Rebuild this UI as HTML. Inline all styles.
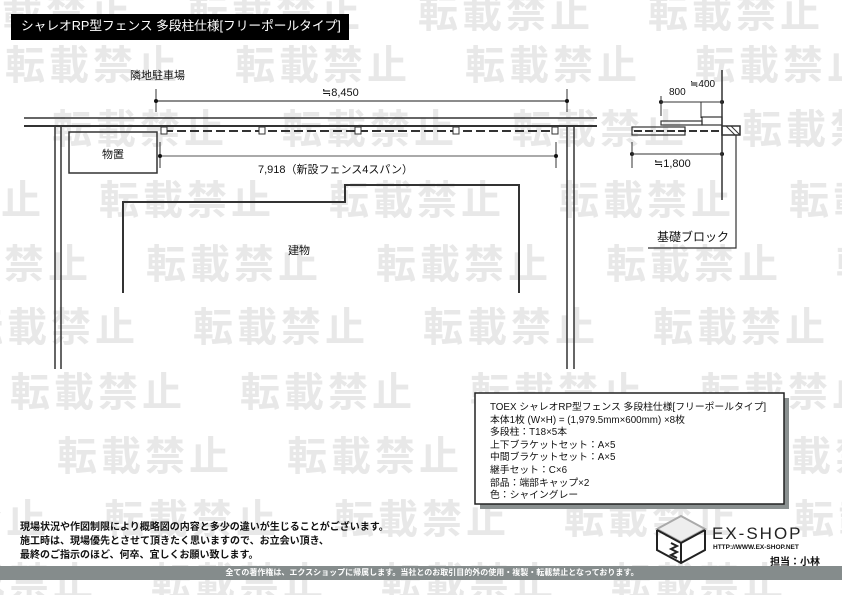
<!DOCTYPE html>
<html><head><meta charset="utf-8">
<style>
body{margin:0;width:842px;height:595px;overflow:hidden;background:#fff;position:relative;font-family:"Liberation Sans","Noto Sans CJK JP",sans-serif;}
#wmw{position:absolute;left:0;top:0;width:842px;height:595px;overflow:hidden;}
.wm{position:absolute;white-space:nowrap;font-size:40px;font-weight:bold;color:#e8e8e8;line-height:40px;letter-spacing:4px;}
.wm span{display:inline-block;width:230px;}
.t{position:absolute;white-space:nowrap;color:#111;}
svg{position:absolute;left:0;top:0;}
</style></head><body>
<div id="wmw">
<div class="wm" style="left:-42px;top:-6px"><span>転載禁止</span><span>転載禁止</span><span>転載禁止</span><span>転載禁止</span><span>転載禁止</span></div>
<div class="wm" style="left:5px;top:46px"><span>転載禁止</span><span>転載禁止</span><span>転載禁止</span><span>転載禁止</span></div>
<div class="wm" style="left:-178px;top:110px"><span>転載禁止</span><span>転載禁止</span><span>転載禁止</span><span>転載禁止</span><span>転載禁止</span></div>
<div class="wm" style="left:-131px;top:181px"><span>転載禁止</span><span>転載禁止</span><span>転載禁止</span><span>転載禁止</span><span>転載禁止</span></div>
<div class="wm" style="left:-84px;top:245px"><span>転載禁止</span><span>転載禁止</span><span>転載禁止</span><span>転載禁止</span><span>転載禁止</span></div>
<div class="wm" style="left:-37px;top:308px"><span>転載禁止</span><span>転載禁止</span><span>転載禁止</span><span>転載禁止</span><span>転載禁止</span></div>
<div class="wm" style="left:10px;top:373px"><span>転載禁止</span><span>転載禁止</span><span>転載禁止</span><span>転載禁止</span></div>
<div class="wm" style="left:-173px;top:437px"><span>転載禁止</span><span>転載禁止</span><span>転載禁止</span><span>転載禁止</span><span>転載禁止</span></div>
<div class="wm" style="left:-126px;top:500px"><span>転載禁止</span><span>転載禁止</span><span>転載禁止</span><span>転載禁止</span><span>転載禁止</span></div>
<div class="wm" style="left:-79px;top:563px"><span>転載禁止</span><span>転載禁止</span><span>転載禁止</span><span>転載禁止</span><span>転載禁止</span></div>
</div>

<div style="position:absolute;left:11px;top:14px;width:338px;height:26px;background:#000;"></div>
<div class="t" style="left:21px;top:18px;color:#fff;font-size:12.7px;line-height:17px;">シャレオRP型フェンス 多段柱仕様[フリーポールタイプ]</div>

<svg width="842" height="595" viewBox="0 0 842 595">
<g stroke="#333" fill="none">
<line x1="24" y1="118" x2="597" y2="118" stroke-width="1.5"/>
<line x1="24" y1="126" x2="597" y2="126" stroke-width="2"/>
<line x1="55" y1="126" x2="55" y2="369" stroke-width="1.5"/>
<line x1="61" y1="126" x2="61" y2="369" stroke-width="1.5"/>
<line x1="567" y1="126" x2="567" y2="369" stroke-width="1.5"/>
<line x1="574" y1="126" x2="574" y2="369" stroke-width="1.5"/>
<rect x="69" y="132" width="88" height="41" stroke-width="1.5"/>
<line x1="156" y1="101" x2="567" y2="101" stroke="#666" stroke-width="1.5"/>
<line x1="156" y1="89" x2="156" y2="112"/>
<line x1="567" y1="89" x2="567" y2="112"/>
<line x1="160" y1="156" x2="556" y2="156" stroke="#555"/>
<line x1="160" y1="142" x2="160" y2="168"/>
<line x1="556" y1="142" x2="556" y2="168"/>
<line x1="164" y1="131" x2="556" y2="131" stroke-width="2" stroke-dasharray="9,4"/>
<polyline points="123,293 123,202 345,202 345,185 519,185 519,293" stroke-width="2"/>
</g>
<g fill="#fff" stroke="#333">
<rect x="161" y="127" width="6" height="7"/><rect x="259" y="127" width="6" height="7"/><rect x="355" y="127" width="6" height="7"/><rect x="453" y="127" width="6" height="7"/><rect x="552" y="127" width="6" height="7"/>
</g>
<g fill="#111"><circle cx="156" cy="101" r="2"/><circle cx="567" cy="101" r="2"/><circle cx="160" cy="156" r="2"/><circle cx="556" cy="156" r="2"/>
<circle cx="661" cy="102" r="2"/><circle cx="722" cy="102" r="2"/><circle cx="632" cy="154" r="2"/><circle cx="722" cy="154" r="2"/></g>
<g stroke="#333" fill="none">
<line x1="722" y1="70" x2="722" y2="200" stroke-width="1.5"/>
<line x1="661" y1="102" x2="722" y2="102"/>
<line x1="661" y1="96" x2="661" y2="116"/>
<line x1="701" y1="102" x2="701" y2="118"/>
<rect x="661" y="121" width="41" height="4" stroke-width="1.2"/>
<rect x="702" y="117" width="20" height="8" stroke-width="1.2"/>
<rect x="632" y="127" width="53" height="8" stroke-width="1.2"/>
<line x1="634" y1="131" x2="722" y2="131" stroke-width="2" stroke-dasharray="8,3"/>
<rect x="722" y="126" width="18" height="9" stroke-width="1.5"/>
<line x1="726" y1="126" x2="735" y2="135"/><line x1="731" y1="126" x2="740" y2="135"/>
<line x1="632" y1="154" x2="722" y2="154"/>
<line x1="632" y1="142" x2="632" y2="168"/>
<polyline points="736,135 736,248 648,248" stroke-width="1.2"/>
</g>
<rect x="480" y="398" width="309" height="111" fill="#8a9090"/>
<rect x="475" y="393" width="309" height="111" fill="#fff" stroke="#222" stroke-width="1.5"/>
<rect x="0" y="566" width="842" height="14" fill="#858c8c"/>
<g stroke="#222" stroke-width="2" fill="none">
<polygon points="681,516 705,529 681,542 657,529" stroke="#aaa" fill="#eee"/>
<polyline points="657,530 657,550 681,563 705,550 705,530"/>
<line x1="681" y1="542" x2="681" y2="563"/>
<line x1="657" y1="530" x2="681" y2="543"/>
<line x1="705" y1="530" x2="681" y2="543"/>
<polyline points="671,543 677,546 671,549 677,552 671,555 677,558"/>
</g>
</svg>

<div class="t" style="left:130px;top:67px;font-size:11px;">隣地駐車場</div>
<div class="t" style="left:322px;top:86px;font-size:11px;">≒8,450</div>
<div class="t" style="left:102px;top:146px;font-size:11px;">物置</div>
<div class="t" style="left:258px;top:161px;font-size:11px;">7,918（新設フェンス4スパン）</div>
<div class="t" style="left:288px;top:242px;font-size:11px;">建物</div>
<div class="t" style="left:669px;top:87px;font-size:10px;">800</div>
<div class="t" style="left:690px;top:79px;font-size:10px;">≒400</div>
<div class="t" style="left:654px;top:157px;font-size:11px;">≒1,800</div>
<div class="t" style="left:657px;top:228px;font-size:12px;">基礎ブロック</div>

<div class="t" style="left:490px;top:402px;font-size:9.8px;line-height:12.6px;">TOEX シャレオRP型フェンス 多段柱仕様[フリーポールタイプ]<br>本体1枚 (W×H) = (1,979.5mm×600mm) ×8枚<br>多段柱：T18×5本<br>上下ブラケットセット：A×5<br>中間ブラケットセット：A×5<br>継手セット：C×6<br>部品：端部キャップ×2<br>色：シャイングレー</div>

<div class="t" style="left:20px;top:521px;font-size:10px;font-weight:bold;line-height:14px;">現場状況や作図制限により概略図の内容と多少の違いが生じることがございます。<br>施工時は、現場優先とさせて頂きたく思いますので、お立会い頂き、<br>最終のご指示のほど、何卒、宜しくお願い致します。</div>
<div class="t" style="left:0;width:864px;text-align:center;top:567px;font-size:8px;font-weight:bold;color:#fff;line-height:12px;">全ての著作権は、エクスショップに帰属します。当社とのお取引目的外の使用・複製・転載禁止となっております。</div>
<div class="t" style="left:712px;top:525px;font-size:17px;letter-spacing:2px;line-height:18px;color:#222;">EX-SHOP</div>
<div class="t" style="left:713px;top:544px;font-size:6.5px;font-weight:bold;">HTTP://WWW.EX-SHOP.NET</div>
<div class="t" style="left:770px;top:553px;font-size:10px;font-weight:bold;">担当：小林</div>
</body></html>
